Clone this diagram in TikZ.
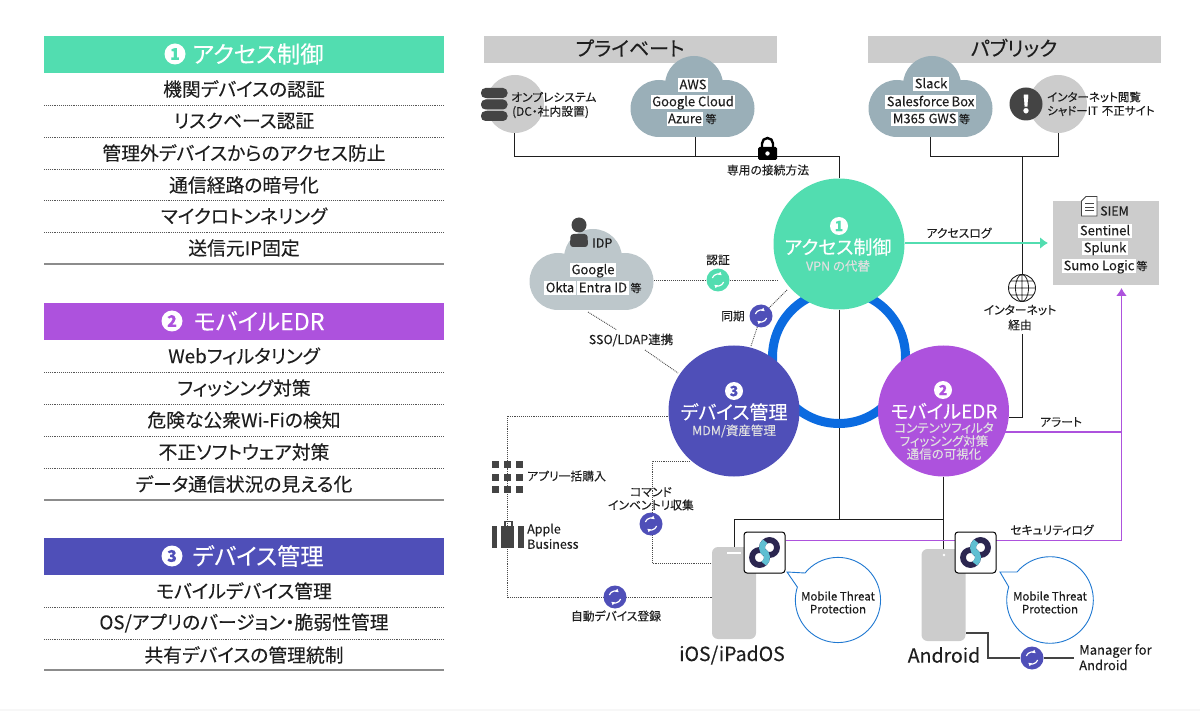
\documentclass[tikz,border=0pt]{standalone}
\usepackage{fontspec}
\setmainfont{Noto Sans CJK JP}[RawFeature=+palt, FakeBold=0.12]
\usetikzlibrary{arrows.meta,backgrounds}
\definecolor{accessgreen}{HTML}{52DDB0}
\definecolor{edrpurple}{HTML}{AD52DD}
\definecolor{mdmindigo}{HTML}{4F4FB8}
\definecolor{ringblue}{HTML}{0B6BE0}
\definecolor{barsilver}{HTML}{CCCCCC}
\definecolor{cloudslate}{HTML}{9AAFB8}
\definecolor{cloudpale}{HTML}{BDC7CB}
\definecolor{icongray}{HTML}{444444}
\definecolor{inkblack}{HTML}{1E1E1E}
\definecolor{logonavy}{HTML}{2B2650}
\definecolor{logocyan}{HTML}{5FBFD2}
\definecolor{bubbleblue}{HTML}{1F78D1}
\newcommand\fs[1]{\fontsize{#1}{#1}\selectfont}
\tikzset{
	lab/.style={inner sep=0pt, text=inkblack, font=\fs{11.8}},
	latin/.style={lab, font=\fs{12.5}},
	hl/.style={lab, font=\fs{13}, fill=white, inner xsep=1.5pt, inner ysep=0pt, text height=11.5pt, text depth=3pt},
	rowtext/.style={lab, font=\fs{18.8}},
	rowdots/.style={densely dotted, line width=0.9pt, color=inkblack!75},
	rowend/.style={line width=1.1pt, color=black!45},
	headbar/.style={fill=#1, minimum width=400pt, minimum height=37pt, inner sep=0pt},
	headtext/.style={inner sep=0pt, text=white, font=\fs{23.3}},
	numdot/.style={circle, fill=white, text=#1, minimum size=21pt, inner sep=0pt, font=\fs{16}\bfseries},
	sidebar/.style={fill=barsilver, minimum width=293pt, minimum height=27pt, inner sep=0pt},
	hub/.style={circle, fill=#1, minimum size=131pt, inner sep=0pt},
	hubtitle/.style={inner sep=0pt, text=white, font=\fs{19}},
	hubsub/.style={inner sep=0pt, text=white!88!black, font=\fs{12.5}},
	syncdot/.style={circle, fill=#1, minimum size=23pt, inner sep=0pt},
	syncarrow/.style={white, line width=1.2pt, -{Latex[length=3.5pt,width=4pt]}},
	dotline/.style={densely dotted, line width=0.9pt, color=inkblack!80},
	wire/.style={line width=1pt, color=inkblack},
	phonebody/.style={rectangle, rounded corners=6pt, fill=barsilver, minimum width=44pt, minimum height=92pt, inner sep=0pt},
	appbox/.style={rectangle, rounded corners=3pt, draw=black, line width=1pt, fill=white, minimum size=41pt, inner sep=0pt},
	bubble/.style={draw=bubbleblue, fill=white, line width=0.9pt},
	purpleline/.style={edrpurple, line width=1.5pt},
	cloudshape/.pic={
		\path[pic actions] (-33.5,12.5) circle[radius=28.5];
		\path[pic actions] (33.5,12.5) circle[radius=28.5];
		\path[pic actions] (1.5,-11) circle[radius=29];
		\path[pic actions] (-33.5,-6) rectangle (33.5,41);
	}
}
\newcommand\syncmark[1]{
	\draw[syncarrow] (#1.center) ++(160:6pt) arc[start angle=160, end angle=50, radius=6pt];
	\draw[syncarrow] (#1.center) ++(-20:6pt) arc[start angle=-20, end angle=-130, radius=6pt];
}
\newcommand\applogo[1]{
	\draw[logonavy, line width=5.8pt] ([shift={(5pt,5pt)}]#1.center) circle[radius=7.5pt];
	\draw[logonavy, line width=5.8pt] ([shift={(-5pt,-5pt)}]#1.center) circle[radius=7.5pt];
	\draw[logocyan, line width=5.8pt] ([shift={(5pt,5pt)}]#1.center) ++(125:7.5pt) arc[start angle=125, end angle=235, radius=7.5pt];
	\draw[logocyan, line width=5.8pt] ([shift={(-5pt,-5pt)}]#1.center) ++(-55:7.5pt) arc[start angle=-55, end angle=55, radius=7.5pt];
}
\begin{document}
\begin{tikzpicture}[x=1pt, y=-1pt]
	\useasboundingbox (0,0) rectangle (1200,711);
	\fill[black!3] (0,709) rectangle (1200,711);

	\node[headbar=accessgreen] (headaccess) at (244,54.5) {};
	\node[numdot=accessgreen] (numaccess) at (175,54) {1};
	\node[headtext] (titleaccess) at (258,54) {アクセス制御};
	\foreach \y/\txt in {89/機関デバイスの認証, 121/リスクベース認証, 153/管理外デバイスからのアクセス防止, 185/通信経路の暗号化, 216/マイクロトンネリング, 248/送信元IP固定}
		\node[rowtext] (rowa\y) at (244,\y) {\txt};
	\foreach \y in {105,137,169,200,232}
		\draw[rowdots] (44,\y)--(444,\y);
	\draw[rowend] (44,264)--(444,264);

	\node[headbar=edrpurple] (headedr) at (244,321.5) {};
	\node[numdot=edrpurple] (numedr) at (172,321) {2};
	\node[headtext] (titleedr) at (259,321) {モバイルEDR};
	\foreach \y/\txt in {356/Webフィルタリング, 388/フィッシング対策, 420/危険な公衆Wi-Fiの検知, 452/不正ソフトウェア対策, 484/データ通信状況の見える化}
		\node[rowtext] (rowb\y) at (244,\y) {\txt};
	\foreach \y in {372,404,436,468}
		\draw[rowdots] (44,\y)--(444,\y);
	\draw[rowend] (44,500)--(444,500);

	\node[headbar=mdmindigo] (headmdm) at (244,556) {};
	\node[numdot=mdmindigo] (nummdm) at (172,556) {3};
	\node[headtext] (titlemdm) at (258,556) {デバイス管理};
	\foreach \y/\txt in {591/モバイルデバイス管理, 623/{OS/アプリのバージョン・脆弱性管理}, 655/共有デバイスの管理統制}
		\node[rowtext] (rowc\y) at (244,\y) {\txt};
	\foreach \y in {607,639}
		\draw[rowdots] (44,\y)--(444,\y);
	\draw[rowend] (44,670)--(444,670);

	\node[sidebar] (privatebar) at (630,49.5) {};
	\node[lab, font=\fs{20}] (privatetitle) at (630,48) {プライベート};
	\node[sidebar] (publicbar) at (1014.5,49.5) {};
	\node[lab, font=\fs{20}] (publictitle) at (1014,48) {パブリック};

	\fill[barsilver] (515,104) circle[radius=29];
	\foreach \t/\b in {88/98,99.5/109.5,111/121}
		\fill[icongray, rounded corners=4.5pt] (481,\t) rectangle (507.5,\b);
	\node[lab, anchor=west] (onpremone) at (511,97) {オンプレシステム};
	\node[lab, anchor=west] (onpremtwo) at (512,112) {(DC・社内設置)};

	\pic[fill=cloudslate] (awscloud) at (692.5,96) {cloudshape};
	\node[hl] (aws) at (693,85) {AWS};
	\node[hl] (gcloud) at (693,102) {Google Cloud};
	\node[hl] (azure) at (685,119) {Azure};
	\node[lab, font=\fs{11}] (azuretou) at (711,119) {等};

	\pic[fill=cloudslate] (pubcloud) at (930.5,96) {cloudshape};
	\node[hl] (slack) at (931,84) {Slack};
	\node[hl] (salesforce) at (918,102) {Salesforce};
	\node[hl] (box) at (963,102) {Box};
	\node[hl] (mthree) at (909,119) {M365};
	\node[hl] (gws) at (942.5,119) {GWS};
	\node[lab, font=\fs{11}] (pubtou) at (964.5,119) {等};

	\fill[barsilver] (1058,104) circle[radius=29];
	\node[circle, fill=icongray, minimum size=33pt, inner sep=0pt, text=white, font=\fs{24}\bfseries] (warnmark) at (1026,104) {!};
	\node[lab, anchor=west, font=\fs{11.5}] (webone) at (1047,97) {インターネット閲覧};
	\node[lab, anchor=west, font=\fs{11.5}] (webtwo) at (1047,111) {シャドーIT\,\,不正サイト};

	\fill[black, rounded corners=1.5pt] (758,147) rectangle (777,160);
	\draw[black, line width=2.4pt] (762,148)--(762,143.5) arc[start angle=180, end angle=0, radius=5.5pt]--(773,148);
	\fill[white] (767.5,153.5) circle[radius=2.2];
	\node[lab] (privateway) at (768,170) {専用の接続方法};

	\node[rectangle, fill=barsilver, minimum width=106pt, minimum height=84pt, inner sep=0pt] (siembox) at (1106,243) {};
	\filldraw[fill=white, draw=icongray, line width=0.8pt] (1086,196.5)--(1097,196.5)--(1097,216)--(1081.5,216)--(1081.5,201)--cycle;
	\foreach \y in {203.5,207,210.5}
		\draw[icongray, line width=0.7pt] (1085,\y)--(1094,\y);
	\node[latin, anchor=west] (siemtitle) at (1100,211) {SIEM};
	\node[hl] (sentinel) at (1105,231) {Sentinel};
	\node[hl] (splunk) at (1105,248) {Splunk};
	\node[hl] (sumo) at (1099,266) {Sumo Logic};
	\node[lab, font=\fs{11}] (siemtou) at (1142,266) {等};
	\node[lab] (accesslog) at (959,233) {アクセスログ};

	\pic[fill=cloudpale] (idpcloud) at (591.5,269) {cloudshape};
	\fill[icongray] (579,225) circle[radius=7.5];
	\fill[icongray, rounded corners=3pt] (570,247)--(570.5,234)--(587.5,234)--(588,247)--cycle;
	\node[latin, anchor=west] (idptitle) at (592,243) {IDP};
	\node[hl] (google) at (593,270) {Google};
	\node[hl] (okta) at (560,288) {Okta};
	\node[hl] (entra) at (603,288) {Entra ID};
	\node[lab, font=\fs{11}] (idptou) at (636,288) {等};
	\node[latin] (ssolink) at (631,340) {SSO/LDAP連携};

	\node[hub=accessgreen] (accesshub) at (839,244) {};
	\node[numdot=accessgreen, minimum size=18pt, font=\fs{14}\bfseries] (hubnuma) at (839,226) {1};
	\node[hubtitle] (hubtitlea) at (838,247) {アクセス制御};
	\node[hubsub] (hubsuba) at (838,266) {VPN の代替};

	\node[hub=mdmindigo] (mdmhub) at (734,411) {};
	\node[numdot=mdmindigo, minimum size=18pt, font=\fs{14}\bfseries] (hubnumc) at (734,391) {3};
	\node[hubtitle] (hubtitlec) at (734,412) {デバイス管理};
	\node[hubsub] (hubsubc) at (734,431) {MDM/資産管理};

	\node[hub=edrpurple] (edrhub) at (943.5,411) {};
	\node[numdot=edrpurple, minimum size=18pt, font=\fs{14}\bfseries] (hubnumb) at (943,390) {2};
	\node[hubtitle] (hubtitleb) at (944,411) {モバイルEDR};
	\node[hubsub] (hubsubb) at (944,428) {コンテンツフィルタ};
	\node[hubsub] (hubsubd) at (944,441) {フィッシング対策};
	\node[hubsub] (hubsube) at (944,454) {通信の可視化};

	\node[syncdot=accessgreen] (syncauth) at (718,280) {};
	\syncmark{syncauth}
	\node[lab] (authtext) at (718,260) {認証};
	\node[syncdot=mdmindigo] (syncsame) at (761,316) {};
	\syncmark{syncsame}
	\node[lab] (sametext) at (733,316) {同期};
	\node[syncdot=mdmindigo] (synccmd) at (651,524) {};
	\syncmark{synccmd}
	\node[lab] (cmdone) at (651,492) {コマンド};
	\node[lab] (cmdtwo) at (651,505) {インベントリ収集};
	\node[syncdot=mdmindigo] (syncauto) at (615,597) {};
	\syncmark{syncauto}
	\node[lab] (autotext) at (616,616) {自動デバイス登録};
	\node[syncdot=mdmindigo] (syncmgr) at (1032,658) {};
	\syncmark{syncmgr}

	\foreach \x in {492,504,516}
		\foreach \y in {461,473.5,486}
			\fill[icongray] (\x,\y) rectangle +(7,7);
	\node[lab, anchor=west] (bulkbuy) at (527,476) {アプリ一括購入};
	\fill[icongray] (491.5,526) rectangle (497,547.5);
	\fill[icongray] (501,526) rectangle (514,547.5);
	\fill[icongray] (518,526) rectangle (523.5,547.5);
	\draw[icongray, line width=1.1pt] (505,526)--(505,521.5)--(512,521.5)--(512,526);
	\node[latin, anchor=west] (appleone) at (527,530) {Apple};
	\node[latin, anchor=west] (appletwo) at (527,544) {Business};

	\filldraw[fill=white, draw=inkblack, line width=0.9pt] (1022,288) circle[radius=13.5];
	\draw[inkblack, line width=0.8pt] (1022,274.5)--(1022,301.5) (1022,288) ellipse[x radius=6.5, y radius=13.5] (1008.5,288)--(1035.5,288) (1011,281)--(1033,281) (1011,295)--(1033,295);
	\node[lab] (webviaone) at (1020,310) {インターネット};
	\node[lab] (webviatwo) at (1020,325) {経由};

	\node[phonebody] (iosphone) at (734,593) {};
	\draw[white, line width=1.3pt] (727,553)--(741,553);
	\node[phonebody] (droidphone) at (943.5,595) {};
	\fill[white] (944,555) circle[radius=1.3];
	\node[lab, font=\fs{19.5}] (iosname) at (732,655) {iOS/iPadOS};
	\node[lab, font=\fs{19.5}] (droidname) at (944,655) {Android};

	\filldraw[bubble] (787,572)--(805,573) arc[start angle=140.7, end angle=-197.6, radius=42.6pt]--cycle;
	\node[lab, font=\fs{11.5}] (mtpone) at (838,596) {Mobile Threat};
	\node[lab, font=\fs{11.5}] (mtptwo) at (838,609) {Protection};
	\filldraw[bubble] (1000,572)--(1017,572) arc[start angle=139.7, end angle=-197.6, radius=43.3pt]--cycle;
	\node[lab, font=\fs{11.5}] (mtpthree) at (1050,596) {Mobile Threat};
	\node[lab, font=\fs{11.5}] (mtpfour) at (1050,609) {Protection};

	\node[appbox] (iosapp) at (764.5,552.5) {};
	\applogo{iosapp}
	\node[appbox] (droidapp) at (975.5,552.5) {};
	\applogo{droidapp}

	\node[lab] (alerttext) at (1061,422) {アラート};
	\node[lab] (seclog) at (1052,530) {セキュリティログ};
	\node[lab, anchor=west, font=\fs{13}] (mgrone) at (1079,651) {Manager for};
	\node[lab, anchor=west, font=\fs{13}] (mgrtwo) at (1079,665) {Android};

	\coordinate (onpremfoot) at (514,133);
	\coordinate (awsfoot) at (695,137);
	\coordinate (slackfoot) at (930,137);
	\coordinate (webfoot) at (1058,133);
	\coordinate (sidejoin) at (1022,156.5);
	\coordinate (globetop) at (1022,275);
	\coordinate (globeexit) at (1022,334);
	\coordinate (edrside) at (1009,417);
	\coordinate (siemfoot) at (1121.5,288);
	\coordinate (siemarrow) at (1048,243);
	\coordinate (mdmdot) at (690,461);
	\coordinate (idpright) at (654,280);
	\coordinate (idpfoot) at (588,312);
	\coordinate (ssoa) at (617,330);
	\coordinate (ssob) at (645,350);
	\coordinate (mdmleft) at (678,373);
	\coordinate (accessleft) at (778,280);
	\coordinate (accesslow) at (787,290);
	\coordinate (mdmtop) at (751,346);

	\begin{scope}[on background layer]
		\draw[wire] (onpremfoot)--(514,157)--(839,157)--(accesshub.north);
		\draw[wire] (awsfoot)--(695,157);
		\draw[wire] (slackfoot)--(930,156.5)--(1058,156.5)--(webfoot);
		\draw[wire] (sidejoin)--(globetop);
		\draw[wire] (globeexit)--(1022,417)--(edrside);
		\draw[wire] (accesshub.south)--(839,519);
		\draw[wire] (iosphone.north)--(734,519)--(943.5,519);
		\draw[wire] (edrhub.south)--(droidphone.north);
		\draw[ringblue, line width=9pt] (839,357) circle[radius=66.5];
		\draw[accessgreen, line width=2pt, -{Latex[length=8pt,width=12pt]}] (accesshub.east|-siembox)--(siemarrow);
		\draw[purpleline] (edrhub.center|-1000,432)--(1121.5,432);
		\draw[purpleline, -{Latex[length=8pt,width=11pt]}] (iosapp.east|-1000,540.5)--(1121.5,540.5)--(siemfoot);
		\draw[dotline] (idpright)--(syncauth)--(accessleft);
		\draw[dotline] (accesslow)--(syncsame)--(mdmtop);
		\draw[dotline] (idpfoot)--(ssoa);
		\draw[dotline] (ssob)--(mdmleft);
		\draw[dotline] (mdmhub.west|-1000,416)--(507,416)--(507,597.5)--(iosphone.west|-1000,597.5);
		\draw[dotline] (mdmdot)--(652,461)--(652,563)--(iosphone.west|-1000,563);
		\draw[icongray, line width=1.3pt] (966,633)--(988,633)--(988,658)--(syncmgr)--(1074,658);
	\end{scope}
\end{tikzpicture}
\end{document}
